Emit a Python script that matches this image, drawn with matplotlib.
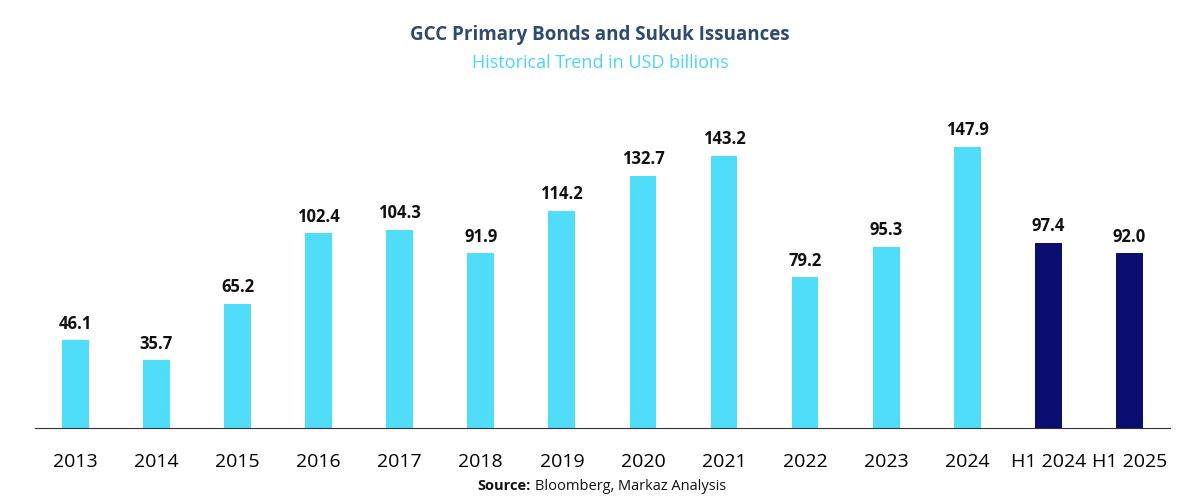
import matplotlib
matplotlib.use("Agg")
import matplotlib.pyplot as plt

categories = ["2013","2014","2015","2016","2017","2018","2019","2020","2021","2022","2023","2024","H1 2024","H1 2025"]
values = [46.1,35.7,65.2,102.4,104.3,91.9,114.2,132.7,143.2,79.2,95.3,147.9,97.4,92.0]
light = "#4FDDFA"
dark = "#0B0E6E"
colors = [light]*12 + [dark]*2

plt.rcParams["font.family"] = "Open Sans"
fig = plt.figure(figsize=(12,5), dpi=100)
ax = fig.add_axes([0.029, 0.144, 0.946, 0.656])
x = range(len(categories))
ax.bar(x, values, width=0.33, color=colors)
for xi, v in zip(x, values):
    ax.text(xi, v + 4, f"{v:.1f}", ha="center", va="bottom", fontsize=12, fontweight="bold", color="#111111")
ax.set_xlim(-0.5, 13.5)
ax.set_ylim(0, 172.6)
ax.set_xticks(list(x))
ax.set_xticklabels(categories, fontsize=14)
ax.tick_params(axis="x", length=0, pad=18)
ax.set_yticks([])
for s in ["top","right","left"]:
    ax.spines[s].set_visible(False)
ax.spines["bottom"].set_color("#333333")
fig.text(0.5, 0.93, "GCC Primary Bonds and Sukuk Issuances", ha="center", va="center", fontsize=13.5, fontweight="bold", color="#2E4A6E")
fig.text(0.5, 0.873, "Historical Trend in USD billions", ha="center", va="center", fontsize=13, color="#4DD5F5")
fig.text(0.442, 0.028, "Source:", ha="right", va="center", fontsize=10.5, fontweight="bold", color="#111111")
fig.text(0.446, 0.028, "Bloomberg, Markaz Analysis", ha="left", va="center", fontsize=10.5, color="#111111")
fig.savefig("out.png")
